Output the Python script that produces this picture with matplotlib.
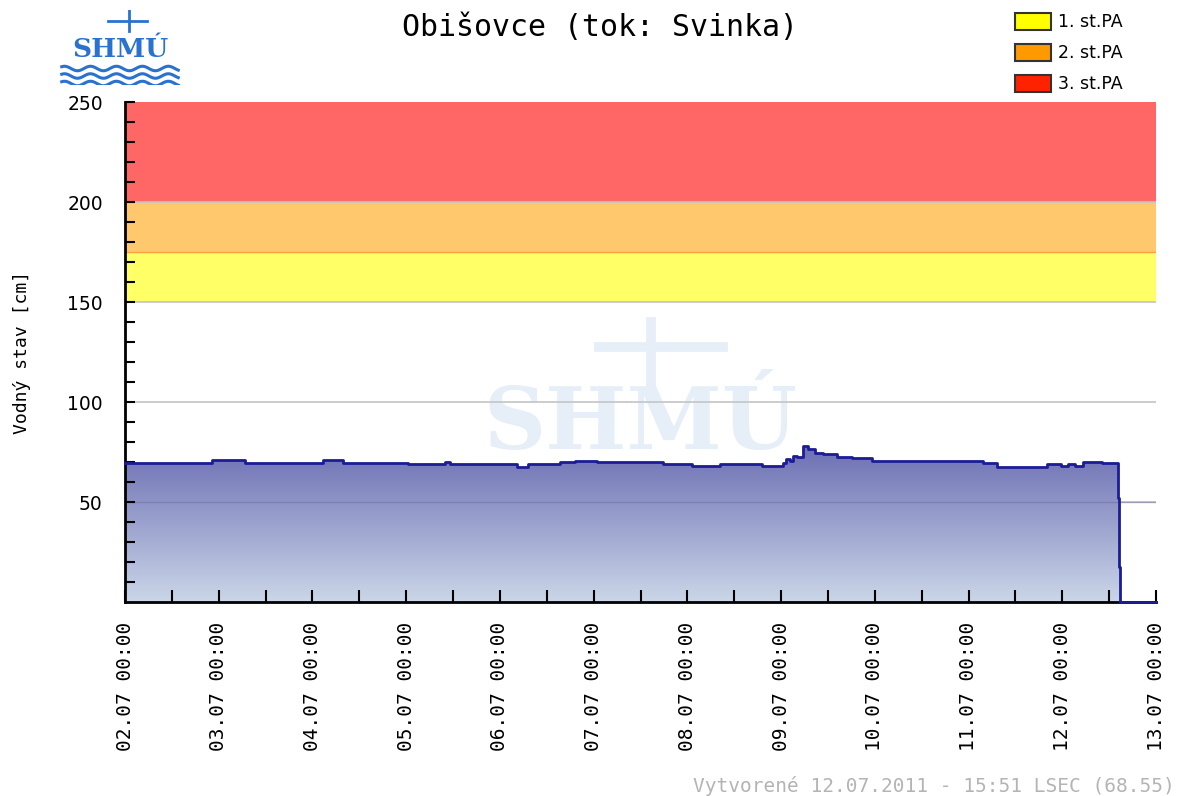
import numpy as np
import pandas as pd
import matplotlib
matplotlib.use('Agg')
import matplotlib.pyplot as plt
import matplotlib.dates as mdates
from matplotlib.patches import Rectangle, Polygon

plt.rcParams['font.family'] = 'DejaVu Sans'

# water level readings: hours after 02.07.2011 00:00 and level [cm]
hours = [0, 14.9, 22.3, 30.7, 50.7, 55.8, 72.5, 81.9, 83.2, 86.5, 100.4, 103.2,
         111.4, 115.2, 120.9, 137.8, 145.2, 152.4, 163.1, 168.5, 169.3, 170.3,
         171.1, 172.1, 173.6, 174.9, 176.7, 178.8, 182.4, 186.2, 191.3, 219.8,
         223.3, 236.1, 239.6, 241.4, 243.2, 245.3, 250.1, 254.3, 254.6, 254.9,
         255.2, 264]
level = [69.3, 69.7, 70.8, 69.5, 70.8, 69.5, 68.8, 69.8, 68.8, 68.8, 67.7, 69.0,
         69.8, 70.7, 69.8, 69.0, 68.0, 68.8, 68.0, 69.3, 71.3, 70.7,
         73.0, 72.3, 78.0, 76.3, 74.3, 73.8, 72.5, 71.8, 70.7, 69.3,
         67.7, 69.0, 68.0, 69.0, 68.0, 70.2, 69.7, 52.0, 17.5, 0.0,
         0.0, 0.0]

# warning levels (stupne povodňovej aktivity)
pa_levels = [150, 175, 200, 250]
pa_fill = ['#ffff66', '#ffc86c', '#ff6666']
pa_legend = ['#ffff00', '#ff9900', '#ff2200']
pa_labels = ['1. st.PA', '2. st.PA', '3. st.PA']

start = pd.Timestamp('2011-07-02 00:00')
end = pd.Timestamp('2011-07-13 00:00')
times = [start + pd.Timedelta(hours=h) for h in hours]
tnum = mdates.date2num(times)

fig = plt.figure(figsize=(11.77, 7.96), dpi=100)
ax = fig.add_axes([125 / 1177, 1 - 602 / 796, 1031 / 1177, 500 / 796])

x0, x1 = mdates.date2num(start), mdates.date2num(end)
ax.set_xlim(x0, x1)
ax.set_ylim(0, 250)

# watermark logo (very light)
wm = '#e6eef8'
ax.text(0.5, 0.355, 'SHMÚ', transform=ax.transAxes, ha='center', va='center',
        fontsize=62, fontweight='bold', color=wm, family='DejaVu Serif', zorder=0.5)
wxx = np.linspace(0.33, 0.67, 200)
for yy in [0.25, 0.21, 0.17, 0.13]:
    ax.plot(wxx, yy + 0.012 * np.sin((wxx - 0.33) * 70), color=wm, lw=6,
            transform=ax.transAxes, zorder=0.5)
ax.plot([0.46, 0.58], [0.51, 0.51], color=wm, lw=7, transform=ax.transAxes, zorder=0.5)
ax.plot([0.51, 0.51], [0.42, 0.56], color=wm, lw=7, transform=ax.transAxes, zorder=0.5)

# warning bands
for i in range(3):
    ax.axhspan(pa_levels[i], pa_levels[i + 1], color=pa_fill[i], lw=0, zorder=1)
ax.axhline(175, color='#ffa040', lw=1, zorder=2)

# grid
for g in [50, 100, 150, 200]:
    ax.axhline(g, color='#c4c4c4', lw=1.2, zorder=1.5)

# gradient fill below the step line
xs, ys = [tnum[0]], [level[0]]
for i in range(1, len(tnum)):
    xs += [tnum[i], tnum[i]]
    ys += [level[i - 1], level[i]]
verts = [(x0, 0)] + list(zip(xs, ys)) + [(xs[-1], 0)]
poly = Polygon(verts, closed=True, facecolor='none', edgecolor='none')
ax.add_patch(poly)
grad = np.linspace(0, 1, 256).reshape(-1, 1)
cmap = matplotlib.colors.LinearSegmentedColormap.from_list('g', ['#cbd6e8', '#6a6cb2'])
im = ax.imshow(grad, cmap=cmap, aspect='auto', extent=[x0, x1, 0, 80], origin='lower', zorder=3)
im.set_clip_path(poly)
ax.axhline(50, color='#6a6a9a', lw=1.0, alpha=0.5, zorder=3.5)
ax.step(tnum, level, where='post', color='#1c1c96', lw=2, zorder=7, clip_on=False)

# axes styling
for s in ['top', 'right']:
    ax.spines[s].set_visible(False)
for s in ['left', 'bottom']:
    ax.spines[s].set_linewidth(2)
    ax.spines[s].set_zorder(5)
ax.xaxis.set_zorder(6)
ax.yaxis.set_zorder(6)
ax.set_yticks([50, 100, 150, 200, 250])
ax.set_yticks(np.arange(10, 250, 10), minor=True)
ax.tick_params(axis='y', which='both', direction='in', length=7, width=1.5, pad=16, labelsize=13.5)
ax.xaxis.set_major_locator(mdates.DayLocator())
ax.xaxis.set_minor_locator(mdates.HourLocator(byhour=[12]))
ax.xaxis.set_major_formatter(mdates.DateFormatter('%d.%m %H:%M'))
ax.tick_params(axis='x', which='both', direction='in', length=9, width=1.5, pad=14,
               labelsize=14, labelrotation=90)
for lab in ax.get_xticklabels():
    lab.set_family('DejaVu Sans Mono')
ax.set_ylabel('Vodný stav [cm]', family='DejaVu Sans Mono', fontsize=13, labelpad=26)

fig.text(600 / 1177, 1 - 27 / 796, 'Obišovce (tok: Svinka)', ha='center', va='center',
         family='DejaVu Sans Mono', fontsize=21.5)
fig.text(1175 / 1177, 1 - 786 / 796, 'Vytvorené 12.07.2011 - 15:51 LSEC (68.55)',
         ha='right', va='center', family='DejaVu Sans Mono', fontsize=14, color='#b4b4b4')

# legend boxes
for i in range(3):
    yc = 1 - (22 + 31 * i) / 796
    fig.patches.append(Rectangle((1015 / 1177, yc - 8 / 796), 36 / 1177, 17 / 796,
                                 transform=fig.transFigure, facecolor=pa_legend[i],
                                 edgecolor='#333333', lw=1.5))
    fig.text(1058 / 1177, yc, pa_labels[i], va='center', fontsize=12.5)

# logo
lax = fig.add_axes([58 / 1177, 1 - 85 / 796, 124 / 1177, 75 / 796])
lax.axis('off')
lax.set_xlim(0, 1)
lax.set_ylim(0, 1)
lax.text(0.5, 0.47, 'SHMÚ', ha='center', va='center', fontsize=19, fontweight='bold',
         family='DejaVu Serif', color='#2a72d0')
wx = np.linspace(0.03, 0.97, 100)
for yy in [0.22, 0.12, 0.02]:
    lax.plot(wx, yy + 0.03 * np.sin(wx * 30), color='#2a72d0', lw=2.2)
lax.plot([0.4, 0.72], [0.85, 0.85], color='#2a72d0', lw=2)
lax.plot([0.57, 0.57], [0.72, 1.0], color='#2a72d0', lw=2)

fig.savefig('out.png', dpi=100)
